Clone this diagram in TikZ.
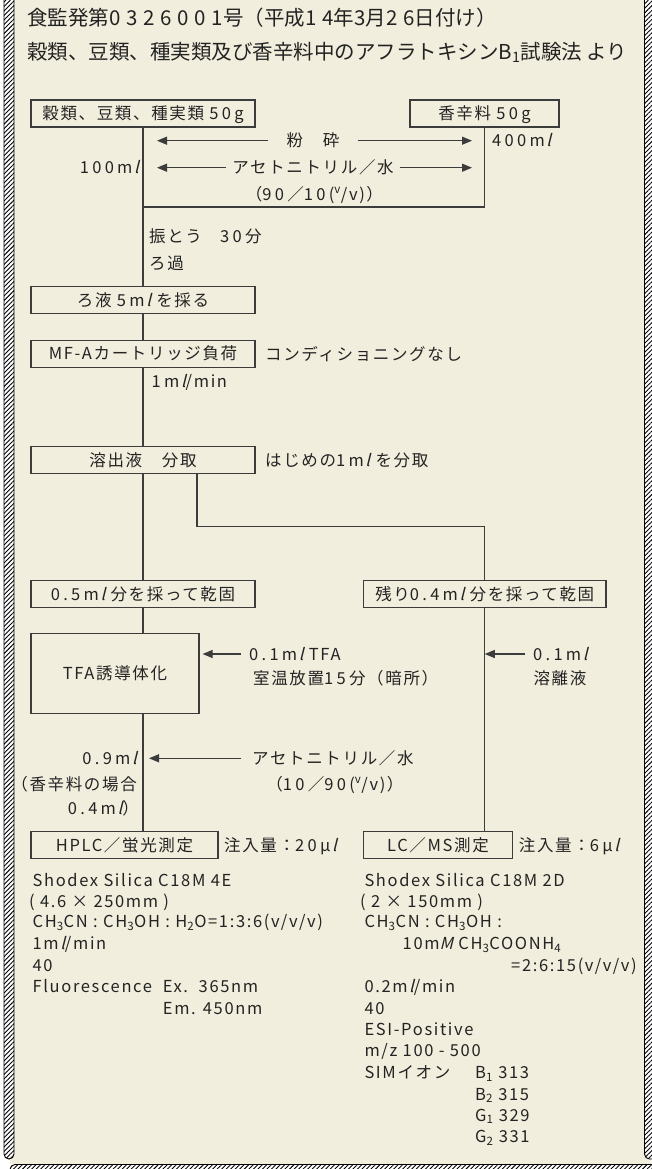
\documentclass[tikz,border=0pt]{standalone}
\usepackage{fontspec}
\setmainfont{Noto Sans CJK JP}[LetterSpace=10]
\newfontfamily\slf{Noto Sans CJK JP}[FakeSlant=0.25,LetterSpace=10]
\newfontfamily\tfam{Noto Sans CJK JP}
\newfontfamily\dgf{Noto Sans CJK JP}[LetterSpace=28]
\newfontfamily\nmf{Noto Sans CJK JP}[LetterSpace=20]
\usetikzlibrary{arrows.meta,patterns.meta}
\definecolor{bg}{RGB}{242,238,221}
\definecolor{lc}{RGB}{60,60,60}
\definecolor{txc}{RGB}{35,35,35}
\newcommand\mlx{m\kern1.6pt{\slf l}}
\newcommand\dg[1]{{\dgf #1}}
\newcommand\nm[1]{{\nmf #1}\kern0.2em}
\tikzset{
  tx/.style={inner sep=0pt, text=txc, font=\fontsize{16.5}{19}\selectfont, text height=14.5pt, text depth=2pt},
  ttl/.style={inner sep=0pt, text=txc, font=\tfam\fontsize{20.5}{24}\selectfont, text height=18pt, text depth=2.5pt, anchor=west},
  col/.style={tx, anchor=west},
  bx/.style={tx, draw=lc, line width=1.2pt, minimum height=27pt},
  ln/.style={draw=lc, line width=1.2pt},
  arr/.style={ln, -{Triangle[length=10pt,width=8pt]}},
  hatch/.style={draw=black, line width=0.9pt, preaction={fill=white}, pattern={Lines[angle=45,distance=3.2pt,line width=0.9pt]}, rounded corners=5pt}
}
\begin{document}
\begin{tikzpicture}[x=1pt,y=-1pt]
\useasboundingbox (0,0) rectangle (651,1169);
% background and frame
\fill[bg] (10,0) rectangle (651,1164);
\draw[hatch] (4,-10) rectangle (14,1159);
\draw[hatch] (644.5,-10) rectangle (665,1159);
\draw[hatch] (10,1164.5) rectangle (670,1190);

% title
\node[ttl] (t1) at (27,18) {食監発第\dg{0326001}号（平成\dg{14}年\dg{3}月\dg{26}日付け）};
\node[ttl] (t2) at (27,51.5) {穀類、豆類、種実類及び香辛料中のアフラトキシンB\textsubscript{1}試験法 より};

% boxes
\node[bx, minimum width=224pt] (b1) at (143,113.5) {穀類、豆類、種実類 \nm{50}g};
\node[bx, minimum width=149pt] (b2) at (484.5,113.5) {香辛料 \nm{50}g};
\node[bx, minimum width=224pt] (b3) at (143,300) {ろ液 \nm{5}\mlx\ を採る};
\node[bx, minimum width=224pt] (b4) at (143,353.7) {MF-Aカートリッジ負荷};
\node[bx, minimum width=224pt] (b5) at (143,460.3) {溶出液　分取};
\node[bx, minimum width=224pt] (b6) at (143,594) {\nm{0.5}\mlx\ 分を採って乾固};
\node[bx, minimum width=242.5pt] (b7) at (484.75,594) {残り\nm{0.4}\mlx\ 分を採って乾固};
\node[bx, minimum width=168pt, minimum height=80pt] (b8) at (115,673.3) {TFA誘導体化};
\node[bx, minimum width=187pt] (b9) at (124.5,845) {HPLC／蛍光測定};
\node[bx, minimum width=149pt] (b10) at (438,845) {LC／MS測定};

% connectors
\coordinate (j1) at (143,207);
\coordinate (br) at (197,474);
\draw[ln] (b1.south) -- (b3.north);
\draw[ln] (b2.south) |- (j1);
\draw[ln] (b3.south) -- (b4.north);
\draw[ln] (b4.south) -- (b5.north);
\draw[ln] (b5.south) -- (b6.north);
\draw[ln] (br) -- ++(0,52.7) -| (b7.north);
\draw[ln] (b6.south) -- (b6.south |- b8.north);
\draw[ln] (b6.south |- b8.south) -- (b6.south |- b9.north);
\draw[ln] (b7.south) -- (b7.south |- b10.north);

% extraction
\node[tx, inner xsep=18pt] (fs) at (313,140.7) {粉　砕};
\coordinate (fsl) at (157,140.7);
\coordinate (fsr) at (472,140.7);
\draw[arr] (fs.west) -- (fsl);
\draw[arr] (fs.east) -- (fsr);
\node[col] (v400) at (492,140.7) {\nm{400}\mlx};
\node[tx, inner xsep=6pt] (ac1) at (313,167.7) {アセトニトリル／水};
\coordinate (acl) at (157,167.7);
\coordinate (acr) at (472,167.7);
\draw[arr] (ac1.west) -- (acl);
\draw[arr] (ac1.east) -- (acr);
\node[tx, anchor=east] (v100) at (139,167.7) {\nm{100}\mlx};
\node[tx] (r1) at (314.5,194) {（\nm{90}／\nm{10}(\textsuperscript{v}/v)）};
\node[col] (shk) at (149,236.7) {振とう　\nm{30}分};
\node[col] (flt) at (149,263.3) {ろ過};

\node[col] (cnd) at (265,354) {コンディショニングなし};
\node[col] (fl1) at (151.5,381.7) {\nm{1}\mlx/min};
\node[col] (frc) at (265,460.7) {はじめの\nm{1}\mlx\ を分取};

% TFA
\node[col, inner xsep=8pt] (tfa) at (241,654) {\nm{0.1}\mlx\ TFA};
\draw[arr, shorten >=3pt] (tfa.west) -- (b8.east |- tfa.west);
\node[col] (rt) at (253,678) {室温放置\nm{15}分（暗所）};
\node[col, inner xsep=8pt] (r01) at (525,654) {\nm{0.1}\mlx};
\draw[arr] (r01.west) -- (b7.south |- r01.west);
\node[tx] (elu) at (560,678) {溶離液};

\node[col, inner xsep=11pt] (ac2) at (241,758.3) {アセトニトリル／水};
\draw[arr, shorten >=6pt] (ac2.west) -- (b6.south |- ac2.west);
\node[tx] (r2) at (335,784) {（\nm{10}／\nm{90}(\textsuperscript{v}/v)）};
\node[tx, anchor=east] (v09) at (137,758.3) {\nm{0.9}\mlx};
\node[tx, anchor=east] (spc) at (137,784) {（香辛料の場合};
\node[tx, anchor=east] (v04) at (139,808.3) {\nm{0.4}\mlx）};

% injection
\node[col] (inj1) at (224,845) {注入量：\nm{20}μ\kern1.6pt{\slf l}};
\node[col] (inj2) at (518.7,845) {注入量：\nm{6}μ\kern1.6pt{\slf l}};

% HPLC conditions
\node[col] (h1) at (32.4,880) {Shodex Silica C18M 4E};
\node[col] (h2) at (29,901.7) {( 4.6 × 250mm )};
\node[col] (h3) at (32.4,921.7) {CH\textsubscript{3}CN : CH\textsubscript{3}OH : H\textsubscript{2}O=1:3:6(v/v/v)};
\node[col] (h4) at (32.4,943.3) {1\mlx/min};
\node[col] (h5) at (32.4,965) {40};
\node[col] (h6) at (32.4,986) {Fluorescence};
\node[col] (h7) at (162.7,986) {Ex.\ \ 365nm};
\node[col] (h8) at (162.7,1008.3) {Em. 450nm};

% LC/MS conditions
\node[col] (m1) at (364.3,880) {Shodex Silica C18M 2D};
\node[col] (m2) at (360,901.7) {( 2 × 150mm )};
\node[col] (m3) at (364.3,921.7) {CH\textsubscript{3}CN : CH\textsubscript{3}OH :};
\node[col] (m4) at (402.5,943.3) {10m{\slf M} CH\textsubscript{3}COONH\textsubscript{4}};
\node[tx, anchor=east] (m5) at (637,965) {=2:6:15(v/v/v)};
\node[col] (m6) at (364.3,986) {0.2\mlx/min};
\node[col] (m7) at (364.3,1008.3) {40};
\node[col] (m8) at (364.3,1029.3) {ESI-Positive};
\node[col] (m9) at (364.3,1050.7) {m/z 100 - 500};
\node[col] (m10) at (364.3,1072.7) {SIMイオン};
\node[col] (s1) at (475,1072.7) {B\textsubscript{1} 313};
\node[col] (s2) at (475,1094) {B\textsubscript{2} 315};
\node[col] (s3) at (475,1115) {G\textsubscript{1} 329};
\node[col] (s4) at (475,1136.7) {G\textsubscript{2} 331};
\end{tikzpicture}
\end{document}
